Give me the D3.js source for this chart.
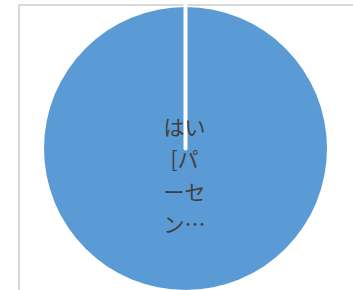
<!DOCTYPE html>
<html>
<head>
<meta charset="utf-8">
<script src="https://cdn.jsdelivr.net/npm/d3@7"></script>
<style>
  body { margin: 0; background: #fff; overflow: hidden; }
  svg { display: block; }
</style>
</head>
<body>
<div id="chart"></div>
<script>
var categories = ["はい", "いいえ"];
var values = [100, 0];
var labelLines = ["はい", "[パ", "ーセ", "ン…"];
var colors = ["#5B9BD5", "#ED7D31"];

(function () {
    "use strict";
    var width = 353, height = 290;
    var cx = 185.5, cy = 148.5, radius = 141.5;

    var svg = d3.select("#chart").append("svg")
        .attr("width", width)
        .attr("height", height);

    // chart frame (cropped on right/bottom)
    svg.append("rect")
        .attr("x", 19)
        .attr("y", 5)
        .attr("width", 400)
        .attr("height", 400)
        .attr("fill", "none")
        .attr("stroke", "#D9D9D9")
        .attr("stroke-width", 2);

    var data = categories.map(function (c, i) {
        return {label: c, value: values[i]};
    });

    var color = d3.scaleOrdinal().domain(categories).range(colors);
    var pie = d3.pie().sort(null).value(function (d) { return d.value; });
    var arcs = pie(data);
    var arc = d3.arc().innerRadius(0).outerRadius(radius);

    var g = svg.append("g").attr("transform", "translate(" + cx + "," + cy + ")");

    g.selectAll(".slice")
        .data(arcs.filter(function (d) { return d.value > 0; }))
        .enter().append("path")
        .attr("class", "slice")
        .attr("d", arc)
        .attr("fill", function (d) { return color(d.data.label); });

    // white slice borders from centre to edge
    g.selectAll(".edge")
        .data(arcs.filter(function (d) { return d.value > 0; }))
        .enter().append("line")
        .attr("class", "edge")
        .attr("x1", 0).attr("y1", 0)
        .attr("x2", function (d) { return Math.sin(d.startAngle) * (radius + 2); })
        .attr("y2", function (d) { return -Math.cos(d.startAngle) * (radius + 2); })
        .attr("stroke", "#fff")
        .attr("stroke-width", 4)
        .attr("stroke-linecap", "round");

    var label = g.append("text")
        .attr("text-anchor", "middle")
        .attr("fill", "#404040")
        .style("font-family", "'Noto Sans CJK JP', sans-serif")
        .style("font-size", "21px");

    label.selectAll("tspan")
        .data(labelLines)
        .enter().append("tspan")
        .attr("x", -1)
        .attr("y", function (d, i) { return -14 + i * 32.5; })
        .text(function (d) { return d; });
}());
</script>
</body>
</html>
